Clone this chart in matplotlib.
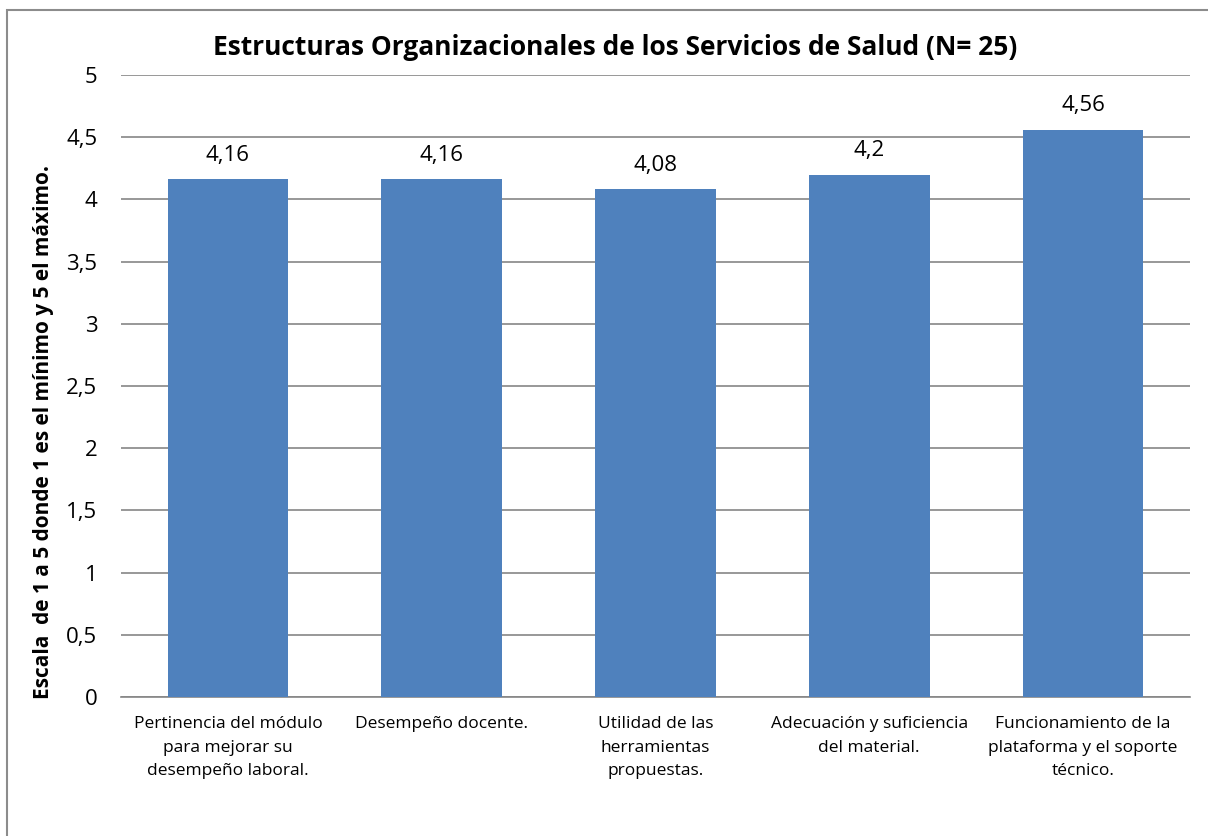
import matplotlib.pyplot as plt
from matplotlib.patches import Rectangle

# data
categorias = ['Pertinencia del módulo\npara mejorar su\ndesempeño laboral.',
              'Desempeño docente.',
              'Utilidad de las\nherramientas\npropuestas.',
              'Adecuación y suficiencia\ndel material.',
              'Funcionamiento de la\nplataforma y el soporte\ntécnico.']
valores = [4.16, 4.16, 4.08, 4.2, 4.56]
etiquetas = ['4,16', '4,16', '4,08', '4,2', '4,56']
yticks = [0, 0.5, 1, 1.5, 2, 2.5, 3, 3.5, 4, 4.5, 5]
ytick_labels = ['0', '0,5', '1', '1,5', '2', '2,5', '3', '3,5', '4', '4,5', '5']

plt.rcParams['font.family'] = ['Open Sans', 'DejaVu Sans']

fig = plt.figure(figsize=(12.08, 8.36), dpi=100)
ax = fig.add_axes([0.1002, 0.1663, 0.8848, 0.7440])

# chart border like excel
fig.patches.append(Rectangle((7/1208, -0.05), 1.2, 1 - 10/836 + 0.05,
                             transform=fig.transFigure, fill=False,
                             edgecolor='#8c8c8c', linewidth=1.5))

x = range(len(valores))
bars = ax.bar(x, valores, width=0.565, color='#4F81BD', zorder=3)
for b, lab in zip(bars, etiquetas):
    ax.text(b.get_x() + b.get_width()/2, b.get_height() + 0.11, lab,
            ha='center', va='bottom', fontsize=16)

ax.set_xlim(-0.5, len(valores) - 0.5)
ax.set_ylim(0, 5)
ax.set_yticks(yticks)
ax.set_yticklabels(ytick_labels, fontsize=16)
ax.set_xticks(list(x))
ax.set_xticklabels(categorias, fontsize=12.5, linespacing=1.6)
ax.tick_params(axis='y', length=0, pad=17)
ax.tick_params(axis='x', length=0, pad=14)
ax.grid(axis='y', color='#868686', linewidth=1.2, zorder=0)
for s in ['top', 'right', 'left']:
    ax.spines[s].set_visible(False)
ax.spines['bottom'].set_color('#868686')
ax.spines['bottom'].set_linewidth(1.2)

ax.set_ylabel('Escala  de 1 a 5 donde 1 es el mínimo y 5 el máximo.',
              fontsize=15, fontweight='bold')
ax.yaxis.set_label_coords(-0.063, 0.426)
fig.text(0.509, 0.9426, 'Estructuras Organizacionales de los Servicios de Salud (N= 25)',
         ha='center', va='center', fontsize=19, fontweight='bold')

fig.savefig('out.png', dpi=100)
